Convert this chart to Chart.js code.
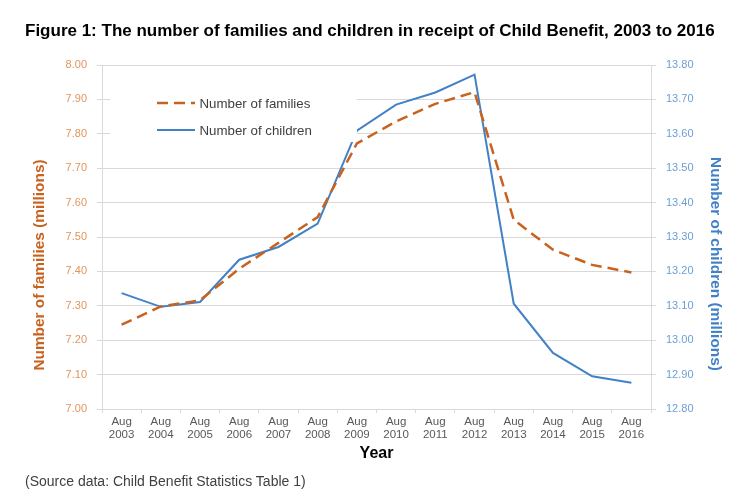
<!DOCTYPE html>
<html>
<head>
<meta charset="utf-8">
<script src="https://cdn.jsdelivr.net/npm/chart.js@4.4.1/dist/chart.umd.min.js"></script>
<style>
  html, body { margin: 0; padding: 0; background: #fff; }
  #wrap { position: relative; width: 753px; height: 500px; overflow: hidden; }
  #c { position: absolute; left: 0; top: 0; }
  #title { position: absolute; left: 25px; top: 21px; line-height: 20px; font-family: "Liberation Sans", Arial, sans-serif; font-weight: bold; font-size: 17px; color: #000; white-space: nowrap; }
  #source { position: absolute; left: 25px; top: 472px; line-height: 18px; font-family: "Liberation Sans", Arial, sans-serif; font-size: 14px; color: #404040; white-space: nowrap; }
</style>
</head>
<body>
<div id="wrap">
  <canvas id="c" width="753" height="500"></canvas>
  <div id="title">Figure 1: The number of families and children in receipt of Child Benefit, 2003 to 2016</div>
  <div id="source">(Source data: Child Benefit Statistics Table 1)</div>
</div>
<script>
const categories = [["Aug","2003"],["Aug","2004"],["Aug","2005"],["Aug","2006"],["Aug","2007"],["Aug","2008"],["Aug","2009"],["Aug","2010"],["Aug","2011"],["Aug","2012"],["Aug","2013"],["Aug","2014"],["Aug","2015"],["Aug","2016"]];
const families = [7.245, 7.298, 7.316, 7.408, 7.483, 7.558, 7.772, 7.836, 7.887, 7.921, 7.550, 7.463, 7.419, 7.397];
const children = [13.137, 13.097, 13.111, 13.234, 13.271, 13.339, 13.609, 13.685, 13.720, 13.772, 13.106, 12.963, 12.895, 12.876];
const familiesTicks = [7.00, 7.10, 7.20, 7.30, 7.40, 7.50, 7.60, 7.70, 7.80, 7.90, 8.00];
const childrenTicks = [12.80, 12.90, 13.00, 13.10, 13.20, 13.30, 13.40, 13.50, 13.60, 13.70, 13.80];
const legendLabels = ["Number of families", "Number of children"];
const axisTitles = ["Number of families (millions)", "Number of children (millions)", "Year"];

const ORANGE = "#C8621F";
const ORANGE_TICK = "#E0965E";
const BLUE = "#4281C6";
const BLUE_TICK = "#6A9FD6";
const GRID = "#D9D9D9";
const FONT = "'Liberation Sans', Arial, sans-serif";

const PAD = { left: 32, right: 29, top: 65, bottom: 37 };
const AREA = { left: 102, right: 651, top: 65, bottom: 409 };

const overlayPlugin = {
  id: 'overlay',
  afterDatasetsDraw(chart) {
    const ctx = chart.ctx;
    ctx.save();
    // legend box
    ctx.fillStyle = '#fff';
    ctx.fillRect(110, 86, 247, 56);
    const rows = [
      { y: 103, color: ORANGE, dash: [11, 6], width: 2.5, label: legendLabels[0] },
      { y: 130, color: BLUE, dash: [], width: 2, label: legendLabels[1] }
    ];
    rows.forEach(r => {
      ctx.beginPath();
      ctx.setLineDash(r.dash);
      ctx.strokeStyle = r.color;
      ctx.lineWidth = r.width;
      ctx.moveTo(157, r.y);
      ctx.lineTo(195, r.y);
      ctx.stroke();
      ctx.setLineDash([]);
      ctx.fillStyle = '#404040';
      ctx.font = "13.3px " + FONT;
      ctx.textBaseline = 'middle';
      ctx.textAlign = 'left';
      ctx.fillText(r.label, 199.5, r.y + 1);
    });
    // axis titles
    ctx.font = "bold 15.4px " + FONT;
    ctx.textAlign = 'center';
    ctx.textBaseline = 'middle';
    ctx.fillStyle = ORANGE;
    ctx.save();
    ctx.translate(40, 265);
    ctx.rotate(-Math.PI / 2);
    ctx.fillText(axisTitles[0], 0, 0);
    ctx.restore();
    ctx.fillStyle = BLUE;
    ctx.save();
    ctx.translate(715, 264);
    ctx.rotate(Math.PI / 2);
    ctx.fillText(axisTitles[1], 0, 0);
    ctx.restore();
    ctx.restore();
  }
};

new Chart(document.getElementById('c'), {
  type: 'line',
  data: {
    labels: categories,
    datasets: [
      { label: legendLabels[0], data: families, yAxisID: 'y', borderColor: ORANGE, borderWidth: 2.5, borderDash: [11, 6], pointRadius: 0, fill: false, tension: 0 },
      { label: legendLabels[1], data: children, yAxisID: 'y1', borderColor: BLUE, borderWidth: 2, pointRadius: 0, fill: false, tension: 0 }
    ]
  },
  options: {
    responsive: false,
    animation: false,
    devicePixelRatio: 1,
    layout: { padding: PAD },
    plugins: { legend: { display: false }, tooltip: { enabled: false } },
    scales: {
      x: {
        offset: true,
        grid: { display: true, offset: true, drawOnChartArea: false, color: GRID, tickLength: 4, tickColor: GRID },
        border: { display: true, color: GRID },
        ticks: { color: '#595959', font: { family: FONT, size: 11.5, lineHeight: 1.1 }, padding: 3, maxRotation: 0, autoSkip: false },
        title: { display: true, text: axisTitles[2], color: '#000', font: { family: FONT, size: 16, weight: 'bold' }, padding: 0 },
        afterFit(s) { s.height = 500 - PAD.bottom - AREA.bottom; }
      },
      y: {
        position: 'left',
        min: 7.0, max: 8.0,
        afterBuildTicks(s) { s.ticks = familiesTicks.map(v => ({ value: v })); },
        grid: { color: GRID, tickLength: 5, tickColor: GRID },
        border: { display: true, color: GRID },
        ticks: { color: ORANGE_TICK, font: { family: FONT, size: 11 }, padding: 10, callback: v => Number(v).toFixed(2) },
        afterFit(s) { s.width = AREA.left - PAD.left; }
      },
      y1: {
        position: 'right',
        min: 12.8, max: 13.8,
        afterBuildTicks(s) { s.ticks = childrenTicks.map(v => ({ value: v })); },
        grid: { drawOnChartArea: false, color: GRID, tickLength: 5, tickColor: GRID },
        border: { display: true, color: GRID },
        ticks: { color: BLUE_TICK, font: { family: FONT, size: 11 }, padding: 10, callback: v => Number(v).toFixed(2) },
        afterFit(s) { s.width = 753 - PAD.right - AREA.right; }
      }
    }
  },
  plugins: [overlayPlugin]
});
</script>
</body>
</html>
